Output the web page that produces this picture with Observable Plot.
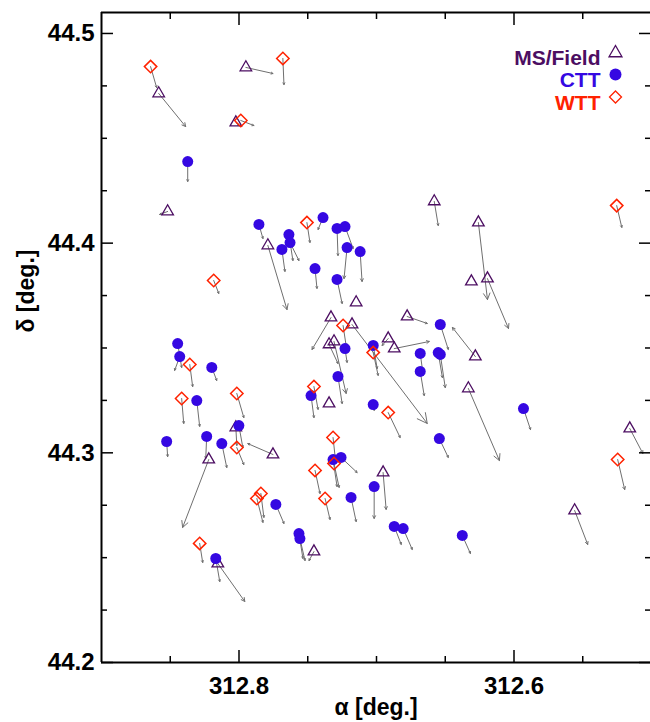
<!DOCTYPE html>
<html><head><meta charset="utf-8">
<script src="https://cdn.jsdelivr.net/npm/d3@7"></script>
<script src="https://cdn.jsdelivr.net/npm/@observablehq/plot@0.6"></script>
<style>html,body{margin:0;padding:0;background:#fff}</style>
</head><body><div id="chart"></div>
<script>
// ---- data: positions (deg) and proper-motion arrow tips (deg) ----
const msRa  = [312.8584,312.7950,312.8023,312.8519,312.7790,312.7148,312.7331,312.7178,312.6777,312.6915,312.6871,312.7345,312.7309,312.7345,312.6580,312.6259,312.6310,312.6193,312.6281,312.6332,312.5158,312.5559,312.8220,312.7753,312.8023,312.7455,312.8154,312.6952];
const msDec = [44.4714,44.4838,44.4575,44.4151,44.3989,44.3717,44.3645,44.3612,44.3650,44.3545,44.3497,44.3517,44.3531,44.3235,44.4199,44.4098,44.3817,44.3831,44.3459,44.3307,44.3116,44.2725,44.2968,44.2992,44.3121,44.2529,44.2472,44.2906];
const msRa2 = [312.8388,312.7753,312.8001,312.8577,312.7651,312.7148,312.7469,312.6631,312.6631,312.6959,312.6616,312.7280,312.7221,312.7345,312.6551,312.6193,312.6310,312.6040,312.6448,312.6106,312.5063,312.5464,312.8410,312.7936,312.8016,312.7491,312.7958,312.6930];
const msDec2= [44.4556,44.4809,44.4561,44.4137,44.3683,44.3717,44.3493,44.3140,44.3617,44.3512,44.3531,44.3426,44.3283,44.3235,44.4084,44.3731,44.3817,44.3593,44.3598,44.2963,44.2997,44.2563,44.2644,44.3044,44.3035,44.2486,44.2291,44.2730];

const cttRa  = [312.8373,312.7855,312.7637,312.7629,312.7688,312.7389,312.7287,312.7229,312.7214,312.7119,312.7447,312.7287,312.7229,312.7024,312.6682,312.6682,312.6536,312.6551,312.6536,312.6543,312.5931,312.6376,312.8446,312.8431,312.8198,312.8307,312.8526,312.8235,312.8125,312.8001,312.7732,312.7564,312.7557,312.8169,312.7476,312.7024,312.7316,312.7258,312.7017,312.7185,312.6871,312.6806,312.7280];
const cttDec = [44.4389,44.4089,44.4041,44.4003,44.3970,44.4122,44.4070,44.4079,44.3979,44.3960,44.3879,44.3827,44.3497,44.3512,44.3474,44.3388,44.3612,44.3478,44.3469,44.3068,44.3211,44.2606,44.3521,44.3459,44.3407,44.3249,44.3054,44.3078,44.3044,44.3130,44.2754,44.2615,44.2591,44.2496,44.3273,44.3230,44.2968,44.2978,44.2839,44.2787,44.2649,44.2639,44.3364];
const cttRa2 = [312.8373,312.7826,312.7608,312.7564,312.7666,312.7425,312.7280,312.7170,312.7236,312.7105,312.7433,312.7250,312.7214,312.6995,312.6660,312.6653,312.6478,312.6521,312.6500,312.6478,312.5880,312.6317,312.8417,312.8468,312.8162,312.8286,312.8519,312.8242,312.8089,312.7972,312.7673,312.7535,312.7520,312.8140,312.7455,312.7017,312.7287,312.7141,312.7017,312.7148,312.6820,312.6740,312.7250];
const cttDec2= [44.4294,44.4022,44.3917,44.3917,44.3865,44.4065,44.3941,44.3974,44.3831,44.3817,44.3784,44.3712,44.3431,44.3402,44.3369,44.3273,44.3493,44.3359,44.3311,44.2978,44.3111,44.2520,44.3407,44.3393,44.3345,44.3126,44.2982,44.2973,44.2930,44.3025,44.2663,44.2496,44.2486,44.2386,44.3168,44.3202,44.2839,44.2906,44.2687,44.2672,44.2563,44.2539,44.3235];

const wttRa  = [312.8643,312.7681,312.7987,312.7506,312.8184,312.8358,312.8417,312.8016,312.8016,312.7455,312.7316,312.7309,312.7447,312.7374,312.6915,312.7024,312.7243,312.7870,312.7841,312.8286,312.5253,312.5246];
const wttDec = [44.4842,44.4881,44.4585,44.4098,44.3822,44.3421,44.3259,44.3283,44.3025,44.3316,44.3073,44.2949,44.2916,44.2782,44.3192,44.3478,44.3607,44.2782,44.2806,44.2568,44.4179,44.2968];
const wttRa2 = [312.8599,312.7673,312.7892,312.7484,312.8147,312.8337,312.8402,312.7965,312.7965,312.7425,312.7301,312.7272,312.7411,312.7338,312.6828,312.6988,312.7221,312.7826,312.7819,312.8264,312.5216,312.5195];
const wttDec2= [44.4742,44.4756,44.4561,44.4003,44.3760,44.3316,44.3140,44.3168,44.2944,44.3207,44.2982,44.2835,44.2806,44.2682,44.3073,44.3369,44.3512,44.2668,44.2692,44.2477,44.4075,44.2825];

const legendLabels = ["MS/Field", "CTT", "WTT"];
const xMajor = [312.8, 312.6];
const xMinor = [312.85, 312.75, 312.7, 312.65, 312.55];
const yMajor = [44.2, 44.3, 44.4, 44.5];
const yMinor = [44.225, 44.25, 44.275, 44.325, 44.35, 44.375, 44.425, 44.45, 44.475];

// ---- layout / style ----
const X_DOMAIN = [312.9, 312.5], Y_DOMAIN = [44.2, 44.51];
const X_RANGE = [101, 651], Y_RANGE = [662, 12];
const PURPLE = "#4c0e62", BLUE = "#3508e2", RED = "#ff2200", GRAY = "#6f6f6f";
const FONT = "'Liberation Sans', Arial, Helvetica, sans-serif";

const rows = (cls, ra, dec, ra2, dec2) => ra.map((v, i) => ({cls, ra: v, dec: dec[i], ra2: ra2[i], dec2: dec2[i]}));
const ms = rows("MS/Field", msRa, msDec, msRa2, msDec2);
const ctt = rows("CTT", cttRa, cttDec, cttRa2, cttDec2);
const wtt = rows("WTT", wttRa, wttDec, wttRa2, wttDec2);
const all = [...ms, ...ctt, ...wtt];

// arrowheads scale with arrow length (as in the original)
const xs = Plot.scale({x: {domain: X_DOMAIN, range: X_RANGE}});
const ys = Plot.scale({y: {domain: Y_DOMAIN, range: Y_RANGE}});
const pixLen = d => Math.hypot(xs.apply(d.ra2) - xs.apply(d.ra), ys.apply(d.dec2) - ys.apply(d.dec));
const groups = d3.groups(all, d => Math.max(2, Math.round(0.09 * pixLen(d))));
const arrowMarks = groups.map(([w, g]) => Plot.arrow(g, {
  x1: "ra", y1: "dec", x2: "ra2", y2: "dec2",
  stroke: GRAY, strokeWidth: 1, headLength: w * 1.5, headAngle: 55
}));

const colors = [PURPLE, BLUE, RED];
const legendMarks = legendLabels.flatMap((t, i) => {
  const dy = [37.5, 60, 82.5][i];
  const sym = [
    {symbol: "triangle", r: 4.8, stroke: PURPLE, fill: "none", strokeWidth: 1.3},
    {symbol: "circle", r: 6, fill: BLUE, stroke: "none"},
    {symbol: "diamond2", r: 5.4, stroke: RED, fill: "none", strokeWidth: 1.3}
  ][i];
  return [
    Plot.text([t], {text: d => d, frameAnchor: "top-right", dx: -50, dy, textAnchor: "end",
      fill: colors[i], fontSize: 21, fontWeight: "bold", fontFamily: FONT}),
    Plot.dot([t], {frameAnchor: "top-right", dx: -35, dy: dy + (i === 0 ? 3 : 2), ...sym})
  ];
});

const tickStyle = {tickFormat: () => "", label: null, strokeWidth: 1.5};

const chart = Plot.plot({
  width: 650, height: 722,
  marginLeft: 101, marginRight: 0, marginTop: 12, marginBottom: 60,
  style: {background: "#fff", fontFamily: FONT, color: "#000", overflow: "visible"},
  x: {domain: X_DOMAIN, range: X_RANGE},
  y: {domain: Y_DOMAIN, range: Y_RANGE},
  marks: [
    ...arrowMarks,
    Plot.dot(ms, {x: "ra", y: "dec", symbol: "triangle", r: 4.3, stroke: PURPLE, fill: "none", strokeWidth: 1.3}),
    Plot.dot(ctt, {x: "ra", y: "dec", symbol: "circle", r: 5.5, fill: BLUE, stroke: "none"}),
    Plot.dot(wtt, {x: "ra", y: "dec", symbol: "diamond2", r: 5.6, stroke: RED, fill: "none", strokeWidth: 1.5}),
    // frame
    Plot.ruleY([Y_DOMAIN[0], Y_DOMAIN[1]], {stroke: "#000", strokeWidth: 2}),
    Plot.ruleX([X_DOMAIN[0]], {stroke: "#000", strokeWidth: 2}),
    // ticks (inward, mirrored)
    Plot.axisX({anchor: "bottom", ticks: xMajor, tickSize: -12, ...tickStyle}),
    Plot.axisX({anchor: "bottom", ticks: xMinor, tickSize: -6, ...tickStyle}),
    Plot.axisX({anchor: "top", ticks: xMajor, tickSize: -12, ...tickStyle}),
    Plot.axisX({anchor: "top", ticks: xMinor, tickSize: -6, ...tickStyle}),
    Plot.axisY({anchor: "left", ticks: yMajor, tickSize: -12, ...tickStyle}),
    Plot.axisY({anchor: "left", ticks: yMinor, tickSize: -6, ...tickStyle}),
    Plot.axisY({anchor: "right", ticks: yMajor, tickSize: -12, ...tickStyle}),
    Plot.axisY({anchor: "right", ticks: yMinor, tickSize: -6, ...tickStyle}),
    // tick labels
    Plot.axisX({anchor: "bottom", ticks: xMajor, tickSize: 0, tickPadding: 14, tickFormat: d3.format(".1f"),
      label: null, fontSize: 24, fontWeight: "bold", fontFamily: FONT}),
    Plot.axisY({anchor: "left", ticks: yMajor, tickSize: 0, tickPadding: 7, tickFormat: d3.format(".1f"),
      label: null, fontSize: 24, fontWeight: "bold", fontFamily: FONT}),
    // axis titles
    Plot.text(["α [deg.]"], {text: d => d, frameAnchor: "bottom", dy: 52, fontSize: 23, fontWeight: "bold", fontFamily: FONT}),
    Plot.text(["δ [deg.]"], {text: d => d, frameAnchor: "left", dx: -75, dy: -5, rotate: -90, fontSize: 23, fontWeight: "bold", fontFamily: FONT}),
    ...legendMarks
  ]
});
document.getElementById("chart").appendChild(chart);
</script>
</body></html>
